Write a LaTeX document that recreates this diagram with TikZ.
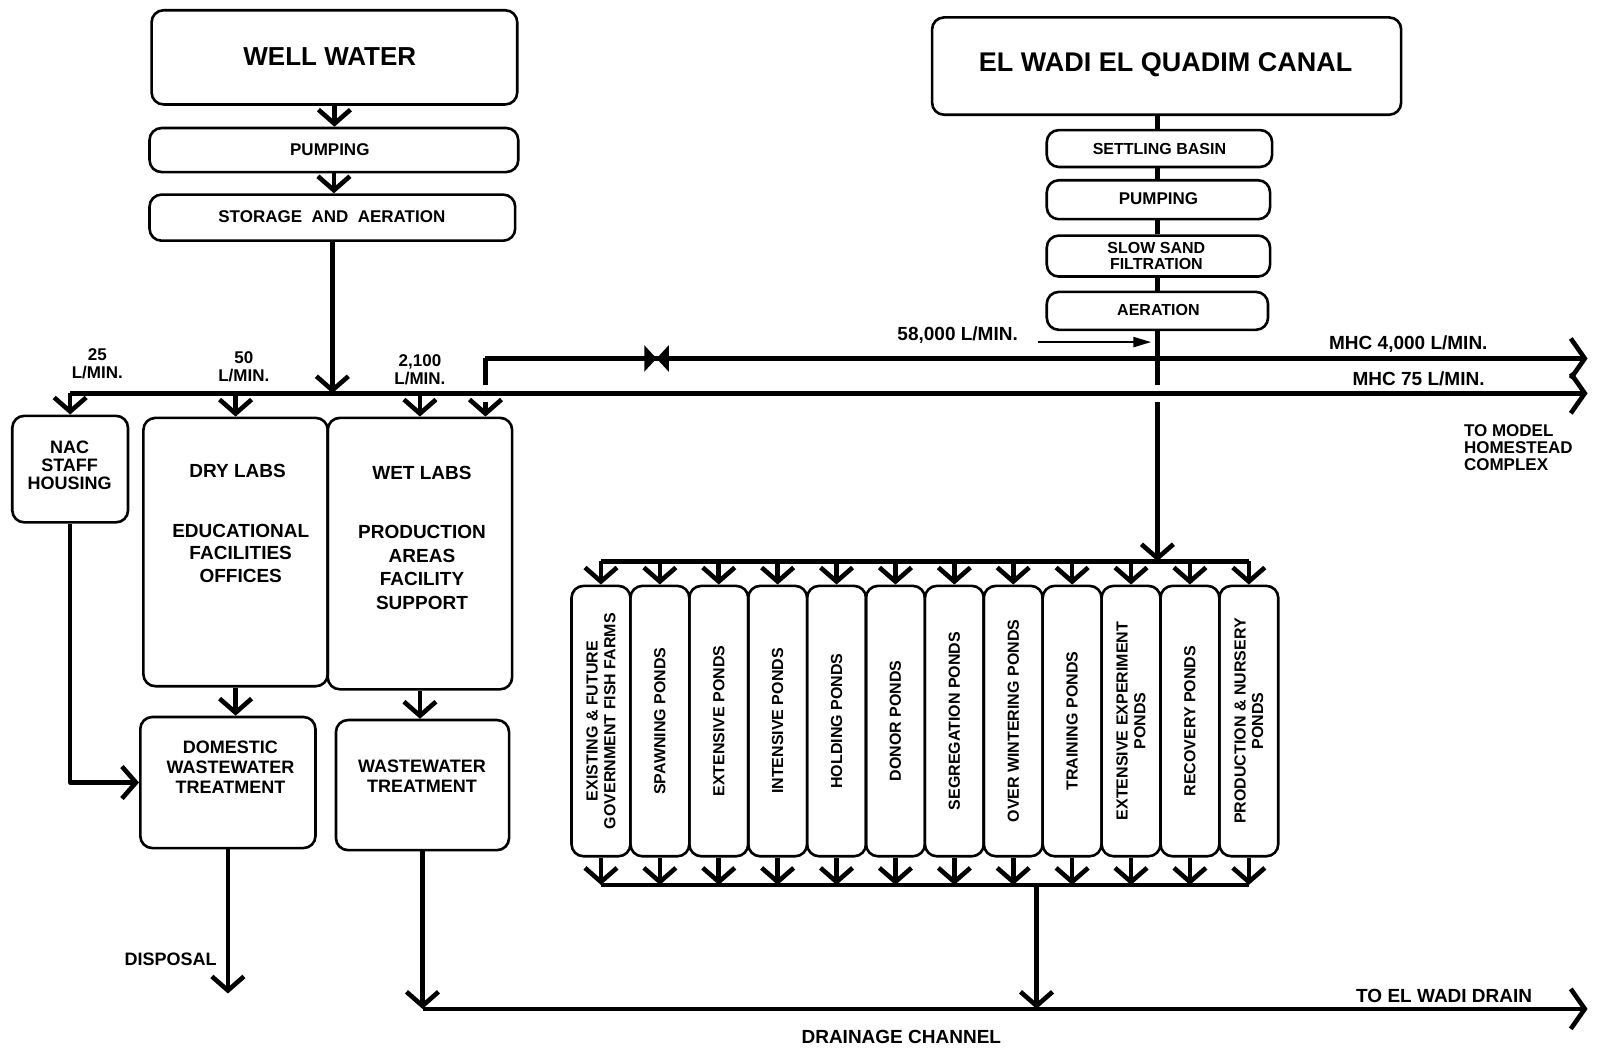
\documentclass[tikz,border=0pt]{standalone}
\usepackage{fontspec}
\setmainfont{Liberation Sans}
\usetikzlibrary{arrows.meta,fit}
\newcommand\fsz[2]{\fontsize{#1}{#2}\selectfont\bfseries}
\begin{document}
\begin{tikzpicture}[x=0.5121pt,y=-0.5121pt,
  box/.style={draw, line width=1.3pt, rounded corners=6pt, inner sep=0pt},
  lbl/.style={inner sep=0pt, align=center},
  conn/.style={line width=2.3pt, line join=round},
  arr/.style={line width=2.3pt, line join=round, -{Straight Barb[length=7pt,width=16pt]}},
  bigarr/.style={line width=2.3pt, -{Straight Barb[length=7pt,width=20pt]}},
  sarr/.style={line width=1.2pt, -{Triangle[length=9pt,width=5pt]}}]
\fill[white] (0,0) rectangle (1568,1023);
\useasboundingbox (0,0) rectangle (1568,1023);

% ---------- well water column ----------
\node[box, fit={(148,10) (505,102)}] (well) {};
\node[lbl, font=\fsz{13}{15}] (wellt) at (322,55) {WELL WATER};
\node[box, fit={(146,125) (506,168)}] (pumpA) {};
\node[lbl, font=\fsz{8.5}{10}] (pumpAt) at (322,146) {PUMPING};
\node[box, fit={(146,190) (503,235)}] (stor) {};
\node[lbl, font=\fsz{8.5}{10}] (stort) at (324,212) {STORAGE~~AND~~AERATION};

\draw[arr] (well.south) -- (well.south |- pumpA.north);
\draw[arr] (pumpA.south) -- (pumpA.south |- stor.north);

% ---------- canal column ----------
\node[box, fit={(910,17) (1368,112)}] (canal) {};
\node[lbl, font=\fsz{13.5}{16}] (canalt) at (1138,63) {EL WADI EL QUADIM CANAL};
\node[box, fit={(1022,127) (1242,163)}] (settle) {};
\node[lbl, font=\fsz{8}{9.5}] (settlet) at (1132,145) {SETTLING BASIN};
\node[box, fit={(1022,176) (1240,214)}] (pumpB) {};
\node[lbl, font=\fsz{8.5}{10}] (pumpBt) at (1131,194) {PUMPING};
\node[box, fit={(1022,230) (1240,270)}] (sand) {};
\node[lbl, font=\fsz{8}{8.3}] (sandt) at (1129,250) {SLOW SAND\\FILTRATION};
\node[box, fit={(1022,285) (1238,322)}] (aer) {};
\node[lbl, font=\fsz{8}{9.5}] (aert) at (1131,303) {AERATION};

\draw[conn] (canal.south -| aer.south) -- (settle.north -| aer.south);
\draw[conn] (settle.south -| aer.south) -- (pumpB.north -| aer.south);
\draw[conn] (pumpB.south -| aer.south) -- (sand.north -| aer.south);
\draw[conn] (sand.south -| aer.south) -- (aer.north);

% ---------- buildings ----------
\node[box, fit={(12,406) (125,510)}] (nac) {};
\node[lbl, font=\fsz{9}{9}] (nact) at (68,454) {NAC\\STAFF\\HOUSING};
\node[box, fit={(140,408) (320,670)}] (dry) {};
\node[lbl, font=\fsz{9.5}{11}] (dryt) at (232,460) {DRY LABS};
\node[lbl, font=\fsz{9.5}{11.3}] (dryb) at (235,540) {EDUCATIONAL\\FACILITIES\\OFFICES};
\node[box, fit={(320,408) (500,673)}] (wet) {};
\node[lbl, font=\fsz{9.5}{11}] (wett) at (412,462) {WET LABS};
\node[lbl, font=\fsz{9.5}{11.8}] (wetb) at (412,554) {PRODUCTION\\AREAS\\FACILITY\\SUPPORT};
\node[box, fit={(137,700) (308,828)}] (dom) {};
\node[lbl, font=\fsz{9}{9.8}] (domt) at (225,749) {DOMESTIC\\WASTEWATER\\TREATMENT};
\node[box, fit={(328,703) (497,830)}] (ww) {};
\node[lbl, font=\fsz{9}{10}] (wwt) at (412,758) {WASTEWATER\\TREATMENT};

% ---------- distribution lines ----------
\coordinate (Lleft) at (68.5,384);
\coordinate (Lright) at (1550,384);
\coordinate (Uleft) at (474,350);
\coordinate (Uright) at (1550,350);
\coordinate (Ugap1) at (474,376);
\coordinate (Ugap2) at (474,392);
\coordinate (Cgap1) at (1130,376);
\coordinate (Cgap2) at (1130,392);

\draw[arr] (stor.south) -- (stor.south |- Lleft);
\draw[bigarr] (Lleft) -- (Lright);
\draw[arr] (Lleft) -- (nac.north);
\draw[arr] (dry.north |- Lleft) -- (dry.north);
\draw[arr] (wet.north |- Lleft) -- (wet.north);

\draw[bigarr] (Uleft) -- (Uright);
\draw[conn] (Uleft) -- (Ugap1);
\draw[arr] (Ugap2) -- (Ugap2 |- wet.north);

% valve
\fill (629,337) -- (641,350) -- (629,363) -- cycle;
\fill (653,337) -- (641,350) -- (653,363) -- cycle;

\draw[conn] (aer.south) -- (Cgap1);

% flow labels
\node[lbl, font=\fsz{8.5}{9}] (f25) at (95,355) {25\\L/MIN.};
\node[lbl, font=\fsz{8.5}{9}] (f50) at (238,358) {50\\L/MIN.};
\node[lbl, font=\fsz{8.5}{9}] (f2100) at (410,361) {2,100\\L/MIN.};
\node[lbl, font=\fsz{9.5}{10}] (f58) at (935,327) {58,000 L/MIN.};
\coordinate (a58s) at (1013,334);
\coordinate (a58e) at (1124,334);
\draw[sarr] (a58s) -- (a58e);
\node[lbl, font=\fsz{9.5}{10}] (fmhc1) at (1375,336) {MHC 4,000 L/MIN.};
\node[lbl, font=\fsz{9.5}{10}] (fmhc2) at (1385,370) {MHC 75 L/MIN.};
\node[lbl, font=\fsz{8.5}{8.5}, align=left, anchor=west] (tomhc) at (1429,437) {TO MODEL\\HOMESTEAD\\COMPLEX};

% ---------- ponds ----------
\foreach \i/\ptxt in {1/{EXISTING \& FUTURE\\GOVERNMENT FISH FARMS},
                      2/{SPAWNING PONDS},
                      3/{EXTENSIVE PONDS},
                      4/{INTENSIVE PONDS},
                      5/{HOLDING PONDS},
                      6/{DONOR PONDS},
                      7/{SEGREGATION PONDS},
                      8/{OVER WINTERING PONDS},
                      9/{TRAINING PONDS},
                      10/{EXTENSIVE EXPERIMENT\\PONDS},
                      11/{RECOVERY PONDS},
                      12/{PRODUCTION \& NURSERY\\PONDS}}{
  \pgfmathsetmacro\xl{558+57.5*(\i-1)}
  \pgfmathsetmacro\xr{558+57.5*\i}
  \pgfmathsetmacro\xc{558+57.5*(\i-0.5)}
  \node[box, fit={(\xl,572) (\xr,836)}] (p\i) {};
  \node[lbl, rotate=90, font=\fsz{8}{8.8}] (pt\i) at (p\i.center) {\ptxt};
  \coordinate (h\i) at (\xc,548);
  \coordinate (b\i) at (\xc,864);
  \draw[arr] (h\i) -- (p\i.north);
  \draw[arr] (p\i.south) -- (b\i);
}
\draw[conn] (h1) -- (h12);
\draw[conn] (b1) -- (b12);
\draw[arr] (Cgap2) -- (Cgap2 |- h1);

% ---------- waste lines ----------
\coordinate (drain) at (1550,985);
\coordinate (bout) at (1012,864);
\coordinate (disp) at (222.5,970);
\draw[arr] (nac.south) -- (nac.south |- dom.west) -- (dom.west);
\draw[arr] (dry.south) -- (dry.south |- dom.north);
\draw[arr] (wet.south) -- (wet.south |- ww.north);
\draw[arr] (dom.south) -- (disp);
\draw[arr] (ww.south) -- (ww.south |- drain);
\draw[bigarr] (ww.south |- drain) -- (drain);
\draw[arr] (bout) -- (bout |- drain);

\node[lbl, font=\fsz{9}{10}, anchor=east] (dispt) at (212,937) {DISPOSAL};
\node[lbl, font=\fsz{9.5}{11}] (todrain) at (1410,972) {TO EL WADI DRAIN};
\node[lbl, font=\fsz{9.5}{11}] (chan) at (880,1012) {DRAINAGE CHANNEL};
\end{tikzpicture}
\end{document}
